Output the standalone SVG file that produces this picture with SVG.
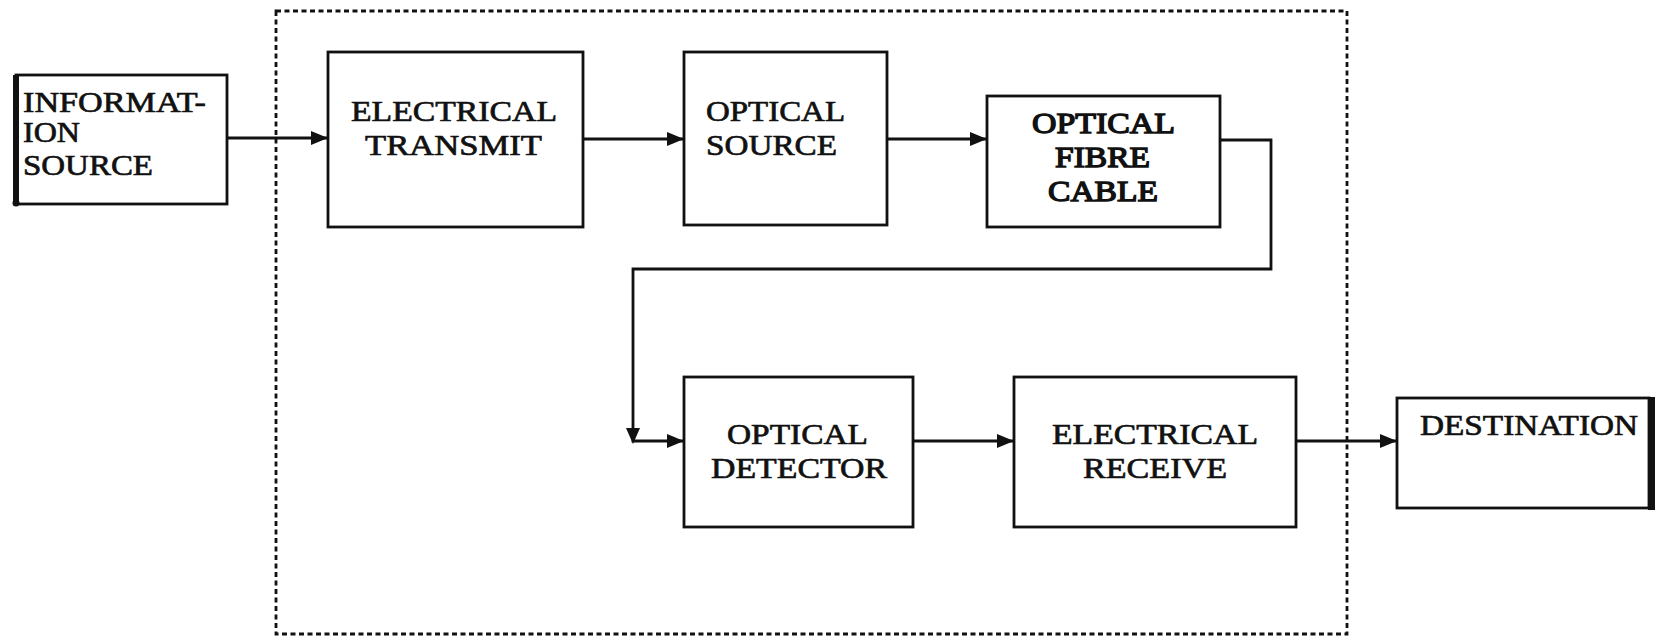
<svg xmlns="http://www.w3.org/2000/svg" width="1655" height="639" viewBox="0 0 1655 639">
<style>
.box{fill:#fff;stroke:#111;stroke-width:2.8}
.t{font-family:"Liberation Serif","Times New Roman",serif;font-size:30px;fill:#111;stroke:#111;stroke-width:0.7}
.tb{font-family:"Liberation Serif","Times New Roman",serif;font-size:30px;fill:#111;stroke:#111;stroke-width:1.4}
.c{fill:none;stroke:#111;stroke-width:2.8}
.frame{fill:none;stroke:#111;stroke-width:2.8;stroke-dasharray:5 3.5}
</style>
<defs>
<marker id="arr" viewBox="0 0 17 14" refX="17" refY="7" markerWidth="17" markerHeight="14" markerUnits="userSpaceOnUse" orient="auto">
<path d="M0,0 L17,7 L0,14 z" fill="#111"/>
</marker>
</defs>
<rect width="1655" height="639" fill="#fff"/>
<rect id="frame" class="frame" x="276" y="11" width="1071" height="623"/>
<g id="information-source">
<rect class="box" x="16" y="75" width="211" height="129"/>
<rect x="13" y="75" width="6" height="130" fill="#111"/>
<circle cx="16" cy="203" r="3.5" fill="#111"/>
<text class="t" x="23" y="112" textLength="183" lengthAdjust="spacingAndGlyphs">INFORMAT-</text>
<text class="t" x="23" y="142" textLength="57" lengthAdjust="spacingAndGlyphs">ION</text>
<text class="t" x="23" y="175" textLength="130" lengthAdjust="spacingAndGlyphs">SOURCE</text>
</g>
<g id="electrical-transmit">
<rect class="box" x="328" y="52" width="255" height="175"/>
<text class="t" x="351" y="121" textLength="206" lengthAdjust="spacingAndGlyphs">ELECTRICAL</text>
<text class="t" x="365" y="155" textLength="177" lengthAdjust="spacingAndGlyphs">TRANSMIT</text>
</g>
<g id="optical-source">
<rect class="box" x="684" y="52" width="203" height="173"/>
<text class="t" x="706" y="121" textLength="139" lengthAdjust="spacingAndGlyphs">OPTICAL</text>
<text class="t" x="706" y="155" textLength="131" lengthAdjust="spacingAndGlyphs">SOURCE</text>
</g>
<g id="optical-fibre-cable">
<rect class="box" x="987" y="96" width="233" height="131"/>
<text class="tb" x="1032" y="133" textLength="143" lengthAdjust="spacingAndGlyphs">OPTICAL</text>
<text class="tb" x="1055" y="167" textLength="95" lengthAdjust="spacingAndGlyphs">FIBRE</text>
<text class="tb" x="1048" y="201" textLength="110" lengthAdjust="spacingAndGlyphs">CABLE</text>
</g>
<g id="optical-detector">
<rect class="box" x="684" y="377" width="229" height="150"/>
<text class="t" x="727" y="444" textLength="141" lengthAdjust="spacingAndGlyphs">OPTICAL</text>
<text class="t" x="711" y="478" textLength="176" lengthAdjust="spacingAndGlyphs">DETECTOR</text>
</g>
<g id="electrical-receive">
<rect class="box" x="1014" y="377" width="282" height="150"/>
<text class="t" x="1052" y="444" textLength="206" lengthAdjust="spacingAndGlyphs">ELECTRICAL</text>
<text class="t" x="1083" y="478" textLength="144" lengthAdjust="spacingAndGlyphs">RECEIVE</text>
</g>
<g id="destination">
<rect class="box" x="1397" y="398" width="252" height="110"/>
<rect x="1648" y="397" width="7" height="113" fill="#111"/>
<text class="t" x="1420" y="435" textLength="218" lengthAdjust="spacingAndGlyphs">DESTINATION</text>
</g>
<g id="connectors">
<line class="c" x1="227" y1="138" x2="328" y2="138" marker-end="url(#arr)"/>
<line class="c" x1="583" y1="139" x2="684" y2="139" marker-end="url(#arr)"/>
<line class="c" x1="887" y1="139" x2="987" y2="139" marker-end="url(#arr)" style="stroke-width:3.2"/>
<path class="c" d="M1220,140 H1271 V269 H633 V441 H684" marker-end="url(#arr)"/>
<path d="M626,428 L640,428 L633,444 z" fill="#111"/>
<line class="c" x1="913" y1="441" x2="1014" y2="441" marker-end="url(#arr)"/>
<line class="c" x1="1296" y1="441" x2="1397" y2="441" marker-end="url(#arr)"/>
</g>
</svg>
